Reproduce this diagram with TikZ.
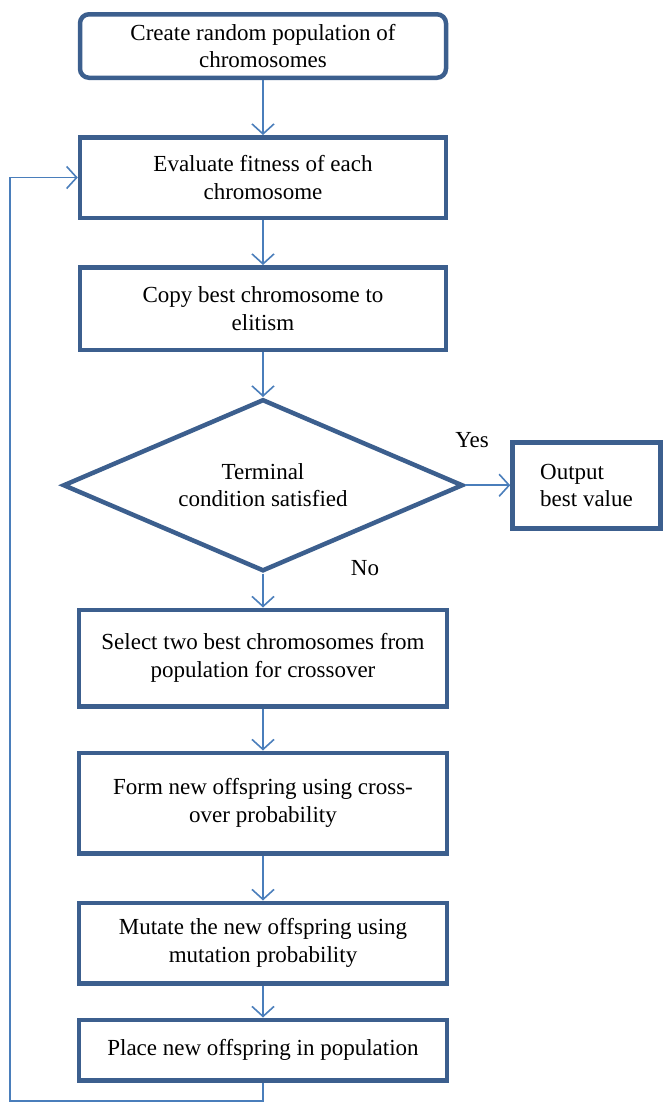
\documentclass[tikz,border=0pt]{standalone}
\usepackage{fontspec}
\setmainfont{Liberation Serif}
\usepackage{tikz}
\usetikzlibrary{positioning,arrows.meta,shapes.geometric}
\definecolor{GAframe}{HTML}{3C5F8E}
\definecolor{GAlink}{HTML}{4A7EBB}
\tikzset{
  gabox/.style={draw=GAframe, line width=4.5pt, fill=white, align=center, minimum width=366pt, font=\fontsize{23}{27.5}\selectfont, text=black, inner sep=4pt},
  startbox/.style={gabox, rounded corners=9pt},
  decision/.style={diamond, draw=GAframe, line width=4.5pt, fill=white, align=center, minimum width=400pt, minimum height=172pt, aspect=2.3, inner sep=0pt, font=\fontsize{23}{27.5}\selectfont},
  outbox/.style={gabox, minimum width=148pt, minimum height=86pt, align=left},
  gaarr/.style={-{Straight Barb[length=10pt,width=22pt,line width=1.6pt]}, line width=1.6pt, draw=GAlink},
  branch/.style={font=\fontsize{23}{27.5}\selectfont, inner sep=0pt}
}
\begin{document}
\begin{tikzpicture}[x=1pt,y=1pt]
  \useasboundingbox (0,0) rectangle (663,-1104);
  \node[startbox, minimum height=63.5pt] (create) at (263,-46) {Create random population of\\chromosomes};
  \node[gabox, minimum height=80.5pt, below=55pt of create] (evaluate) {Evaluate fitness of each\\chromosome};
  \node[gabox, minimum height=82.5pt, below=45pt of evaluate] (elitism) {Copy best chromosome to\\elitism};
  \node[decision, below=45pt of elitism] (terminal) {Terminal\\condition satisfied};
  \node[outbox, right=45pt of terminal] (output) {Output\\best value};
  \node[gabox, minimum width=368pt, minimum height=96.5pt, below=34pt of terminal] (select) {Select two best chromosomes from\\population for crossover};
  \node[gabox, minimum width=368pt, minimum height=100.5pt, below=42pt of select] (crossover) {Form new offspring using cross-\\over probability};
  \node[gabox, minimum width=368pt, minimum height=80.5pt, below=45pt of crossover] (mutate) {Mutate the new offspring using\\mutation probability};
  \node[gabox, minimum width=368pt, minimum height=60.5pt, below=32pt of mutate] (place) {Place new offspring in population};
  \node[branch] (yes) at (472,-440) {Yes};
  \node[branch] (no) at (365,-568) {No};
  \coordinate (loop) at (10,-1101);
  \draw[gaarr] (create) -- (evaluate);
  \draw[gaarr] (evaluate) -- (elitism);
  \draw[gaarr] (elitism) -- (terminal);
  \draw[gaarr] (terminal) -- (output);
  \draw[gaarr] (terminal) -- (select);
  \draw[gaarr] (select) -- (crossover);
  \draw[gaarr] (crossover) -- (mutate);
  \draw[gaarr] (mutate) -- (place);
  \draw[gaarr] (place.south) |- (loop) |- (evaluate.west);
\end{tikzpicture}
\end{document}
